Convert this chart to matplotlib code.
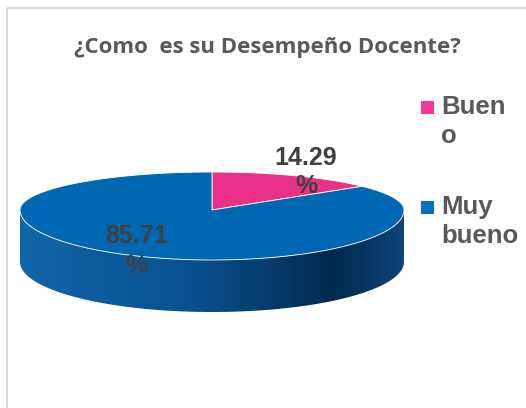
import numpy as np
import matplotlib
matplotlib.use("Agg")
from matplotlib import pyplot as plt
from matplotlib.patches import Polygon, Rectangle
from matplotlib.colors import LinearSegmentedColormap

# chart data
categories = ["Bueno", "Muy bueno"]
values = [14.29, 85.71]
legend_labels = [["Buen", "o"], ["Muy", "bueno"]]
colors = ["#EA3089", "#0067B2"]
legend_colors = ["#FF3399", "#0070C0"]
title = "¿Como  es su Desempeño Docente?"

# figure in pixel coordinates
fig = plt.figure(figsize=(5.26, 4.08), dpi=100)
ax = fig.add_axes([0, 0, 1, 1])
ax.set_xlim(0, 526)
ax.set_ylim(408, 0)
ax.axis("off")

# chart frame
ax.add_patch(Rectangle((7, 8), 540, 420, fill=False, ec="#D9D9D9", lw=1.5))

# 3d pie geometry (back half flatter than front half, fake perspective)
cx, cy = 212, 210
rx = 192
ry_back, ry_front = 38, 50
depth = 52


def ell(t):
    t = np.radians(t)
    s = np.sin(t)
    ry = np.where(s > 0, ry_back, ry_front)
    return cx + rx * np.cos(t), cy - ry * s


# side wall, front half only
t = np.linspace(180, 360, 200)
xt, yt = ell(t)
side = np.column_stack([np.r_[xt, xt[::-1]], np.r_[yt, yt[::-1] + depth]])
wall = Polygon(side, closed=True, fc="none", ec="none")
ax.add_patch(wall)
side_cmap = LinearSegmentedColormap.from_list(
    "side", [(0, "#1066AA"), (0.45, "#0A5090"), (0.82, "#012A4E"), (1, "#10447A")])
grad = np.linspace(0, 1, 256).reshape(1, -1)
im = ax.imshow(grad, cmap=side_cmap, aspect="auto",
               extent=(cx - rx, cx + rx, cy + ry_front + depth + 2, cy - 5), zorder=1)
im.set_clip_path(wall)

# top face: wedges from the data, clockwise from 12 o'clock
fracs = np.array(values) / np.sum(values)
start = 90.0
for frac, col in zip(fracs, colors):
    end = start - frac * 360
    ang = np.linspace(start, end, 200)
    xa, ya = ell(ang)
    pts = np.column_stack([np.r_[cx, xa], np.r_[cy, ya]])
    ax.add_patch(Polygon(pts, closed=True, fc=col, ec="white", lw=0.6, zorder=2))
    start = end

# data labels (number line, then % line)
label_pos = [(306, 165, 193), (137, 243, 273)]
for v, (lx, y1, y2) in zip(values, label_pos):
    for txt, yy in [(f"{v:.2f}", y1), ("%", y2)]:
        ax.text(lx, yy, txt, ha="center", va="baseline", fontsize=18,
                fontweight="bold", color="#404040", family="Liberation Sans", zorder=3)

# title
ax.text(267, 53, title, ha="center", va="baseline", fontsize=16, fontweight="bold",
        color="#595959", family="Open Sans")

# legend
leg_y = [114, 214]
for lines, col, ly in zip(legend_labels, legend_colors, leg_y):
    ax.add_patch(Rectangle((421, ly - 13.5), 13, 13, fc=col, ec="none"))
    for i, txt in enumerate(lines):
        ax.text(441, ly + 29 * i, txt, ha="left", va="baseline", fontsize=18.5,
                fontweight="bold", color="#595959", family="Liberation Sans")

fig.savefig("out.png", dpi=100)
